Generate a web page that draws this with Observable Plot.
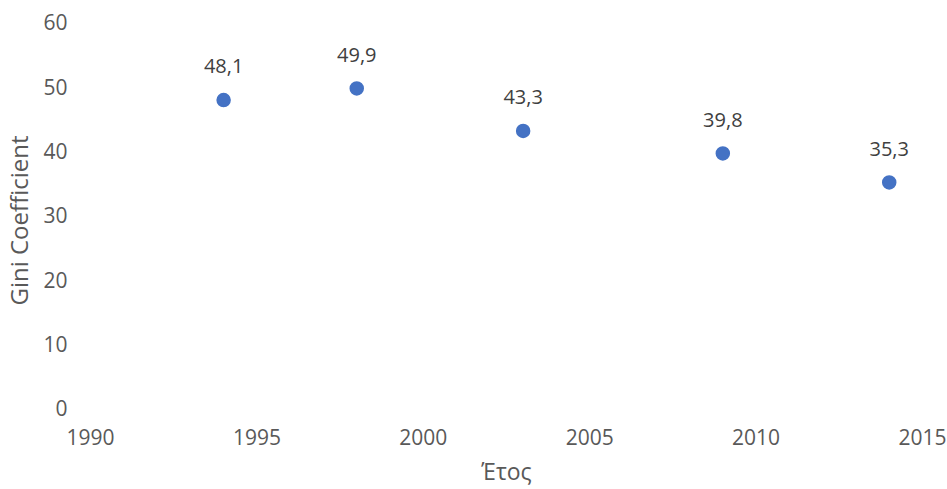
<!DOCTYPE html>
<html>
<head>
<meta charset="utf-8">
<script src="https://cdn.jsdelivr.net/npm/d3@7"></script>
<script src="https://cdn.jsdelivr.net/npm/@observablehq/plot@0.6"></script>
<style>
  html, body { margin: 0; padding: 0; background: #fff; }
  #chart svg { display: block; overflow: visible; }
</style>
</head>
<body>
<div id="chart"></div>
<script>
const years = [1994, 1998, 2003, 2009, 2014];
const gini = [48.1, 49.9, 43.3, 39.8, 35.3];
const xTicks = [1990, 1995, 2000, 2005, 2010, 2015];
const yTicks = [0, 10, 20, 30, 40, 50, 60];

const data = years.map((y, i) => ({year: y, gini: gini[i]}));
const fmt = v => v.toFixed(1).replace(".", ",");

const chart = Plot.plot({
  width: 947,
  height: 489,
  marginLeft: 90,
  marginRight: 25,
  marginTop: 23,
  marginBottom: 80,
  style: {fontFamily: "'Open Sans', sans-serif", background: "#fff", fontSize: "20px"},
  x: {domain: [1990, 2015]},
  y: {domain: [0, 60]},
  marks: [
    Plot.axisX({ticks: xTicks, tickSize: 0, tickPadding: 21, tickFormat: d => String(d), fontSize: 21, fill: "#595959", label: null}),
    Plot.axisY({ticks: yTicks, tickSize: 0, tickPadding: 23, fontSize: 21, fill: "#595959", label: null}),
    Plot.text(["Έτος"], {frameAnchor: "bottom", lineAnchor: "middle", dy: 63, fontSize: 23, fill: "#595959", textAnchor: "middle"}),
    Plot.text(["Gini Coefficient"], {frameAnchor: "left", textAnchor: "middle", lineAnchor: "middle", dx: -70, dy: 4, rotate: -90, fontSize: 24, fill: "#595959"}),
    Plot.dot(data, {x: "year", y: "gini", r: 6.5, fill: "#4472C4", stroke: "#4472C4"}),
    Plot.text(data, {x: "year", y: "gini", text: d => fmt(d.gini), dy: -33, fontSize: 20, fill: "#404040"})
  ]
});
document.getElementById("chart").appendChild(chart);
</script>
</body>
</html>
